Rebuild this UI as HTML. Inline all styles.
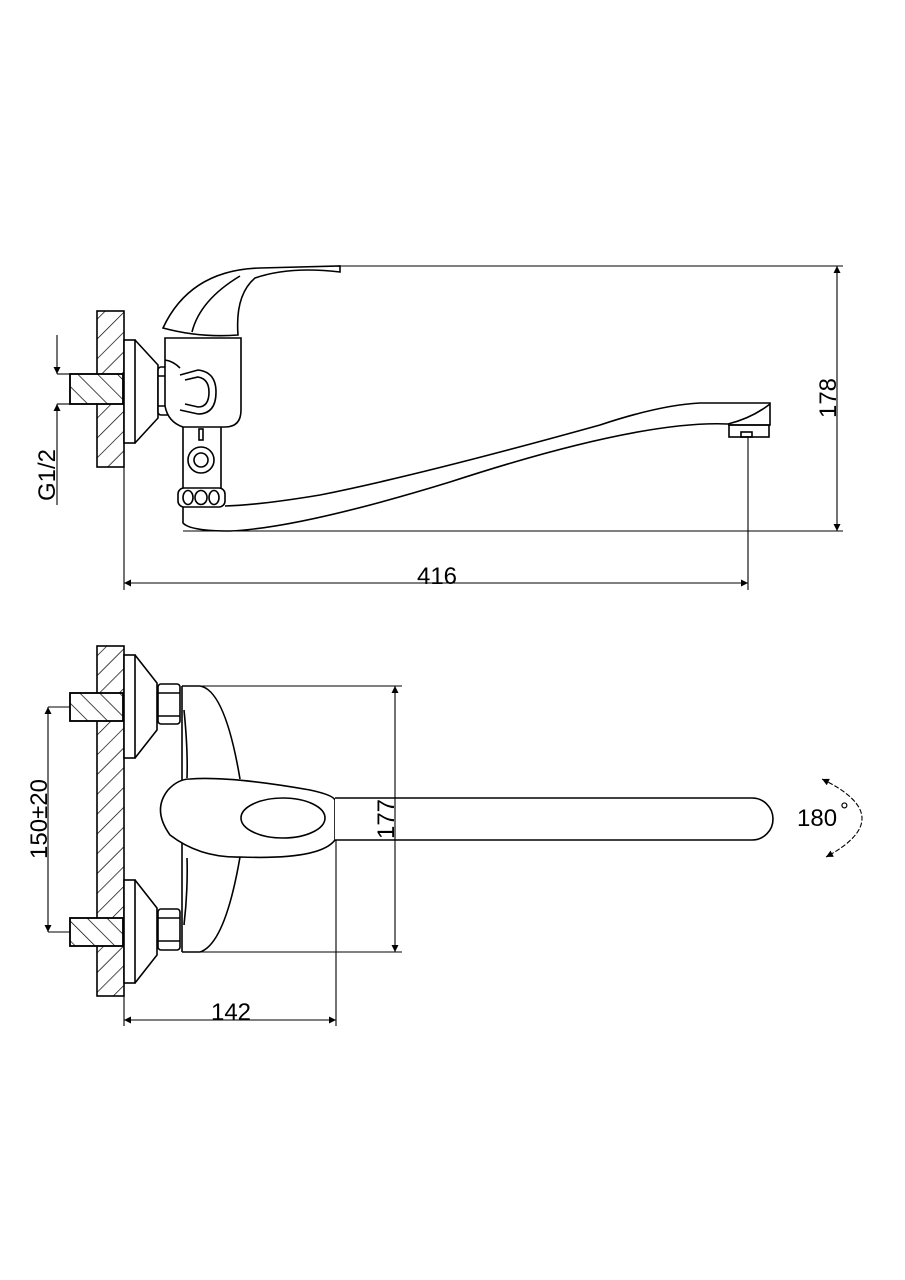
<!DOCTYPE html>
<html><head><meta charset="utf-8"><style>
html,body{margin:0;padding:0;background:#fff}
svg{display:block}
text{font-family:"Liberation Sans",Arial,sans-serif;fill:#000}
</style></head><body>
<svg width="905" height="1280" viewBox="0 0 905 1280" xmlns="http://www.w3.org/2000/svg">
<defs>
<pattern id="h1" patternUnits="userSpaceOnUse" width="14" height="14" patternTransform="rotate(45)">
<line x1="0" y1="0" x2="0" y2="14" stroke="#000" stroke-width="1.4"/></pattern>
<pattern id="h2" patternUnits="userSpaceOnUse" width="14" height="14" patternTransform="rotate(-45)">
<line x1="0" y1="0" x2="0" y2="14" stroke="#000" stroke-width="1.4"/></pattern>
<marker id="a" viewBox="0 0 10 10" refX="10" refY="5" markerWidth="17" markerHeight="7" markerUnits="userSpaceOnUse" orient="auto-start-reverse">
<path d="M0,0 L10,5 L0,10 z" fill="#000"/></marker>
</defs>
<g fill="none" stroke="#000" stroke-width="1.6">
<!-- ===== TOP VIEW ===== -->
<rect x="97" y="311" width="27" height="156" fill="url(#h1)"/>
<rect x="70" y="374" width="53" height="30" fill="#fff"/>
<rect x="70" y="374" width="53" height="30" fill="url(#h2)"/>
<line x1="57" y1="335" x2="57" y2="374" marker-end="url(#a)" stroke-width="1.1"/>
<line x1="57" y1="505" x2="57" y2="404" marker-end="url(#a)" stroke-width="1.1"/>
<line x1="57" y1="374" x2="70" y2="374" stroke-width="1.1"/><line x1="57" y1="404" x2="70" y2="404" stroke-width="1.1"/>
<rect x="124" y="340" width="11" height="103" fill="#fff"/>
<path d="M135,340 L158,365 L158,418 L135,443"/>
<rect x="158" y="367" width="22" height="48" rx="3" fill="#fff"/>
<line x1="158" y1="376" x2="180" y2="376"/><line x1="158" y1="406" x2="180" y2="406"/>
<path d="M165,338 L241,338 L241,410 Q241,427 225,427 L183,427 Q168,422 165,406 Z" fill="#fff"/>
<path d="M180,375 L198,370 Q216,372 216,392 Q216,414 198,414 L180,410"/>
<path d="M185,380 L198,377 Q209,379 209,392 Q209,407 198,407 L185,404"/>
<path d="M165,360 Q173,361 180,368"/>
<path d="M163,328 Q190,270 260,268 L340,266 L340,272 Q290,266 255,278 Q235,295 238,335 Q200,338 163,328 Z" fill="#fff"/>
<path d="M192,332 Q200,300 240,276"/>
<path d="M183,427 L183,488 M221,427 L221,488"/>
<rect x="199" y="429" width="4" height="11"/>
<circle cx="201" cy="460" r="13"/><circle cx="201" cy="460" r="7"/>
<rect x="178" y="488" width="47" height="19" rx="6" fill="#fff"/>
<ellipse cx="188" cy="497.5" rx="5" ry="7"/><ellipse cx="201" cy="497.5" rx="6" ry="7"/><ellipse cx="214" cy="497.5" rx="5" ry="7"/>
<path d="M183,507 L183,523 Q190,531 230,531 Q300,528 450,482 Q640,420 728,424"/>
<path d="M225,506 Q260,505 320,495 Q420,475 600,425 Q660,405 700,403 L770,403 L770,425 L728,425"/>
<path d="M728,424 Q752,418 770,404"/>
<rect x="729" y="425" width="40" height="12"/>
<rect x="741" y="432" width="11" height="5"/>
<g stroke-width="1.1">
<line x1="340" y1="266" x2="843" y2="266"/>
<line x1="183" y1="531" x2="843" y2="531"/>
<line x1="837" y1="400" x2="837" y2="266" marker-end="url(#a)"/>
<line x1="837" y1="400" x2="837" y2="531" marker-end="url(#a)"/>
<line x1="124" y1="467" x2="124" y2="590"/>
<line x1="748" y1="437" x2="748" y2="590"/>
<line x1="430" y1="583" x2="124" y2="583" marker-end="url(#a)"/>
<line x1="430" y1="583" x2="748" y2="583" marker-end="url(#a)"/>
</g>
<!-- ===== BOTTOM VIEW ===== -->
<rect x="97" y="646" width="27" height="350" fill="url(#h1)"/>
<rect x="70" y="693" width="53" height="28" fill="#fff"/>
<rect x="70" y="693" width="53" height="28" fill="url(#h2)"/>
<rect x="70" y="918" width="53" height="28" fill="#fff"/>
<rect x="70" y="918" width="53" height="28" fill="url(#h2)"/>
<rect x="124" y="655" width="11" height="103" fill="#fff"/>
<path d="M135,655 L157,683 L157,730 L135,758"/>
<rect x="124" y="880" width="11" height="103" fill="#fff"/>
<path d="M135,880 L157,908 L157,955 L135,983"/>
<rect x="158" y="684" width="22" height="40" rx="3" fill="#fff"/>
<line x1="158" y1="693" x2="180" y2="693"/><line x1="158" y1="716" x2="180" y2="716"/>
<rect x="158" y="909" width="22" height="41" rx="3" fill="#fff"/>
<line x1="158" y1="918" x2="180" y2="918"/><line x1="158" y1="941" x2="180" y2="941"/>
<line x1="182" y1="686" x2="182" y2="952"/>
<path d="M182,686 L200,686 Q225,690 240,779"/>
<path d="M240,857 Q225,944 200,952 L182,952"/>
<path d="M184,710 Q188,750 187,778 M187,858 Q188,890 184,925"/>
<path d="M190,779 Q230,776 310,790 Q333,795 335,800 L335,840 Q320,860 240,857 Q200,858 170,835 Q152,810 168,790 Q178,779 190,779 Z" fill="#fff"/>
<ellipse cx="283" cy="818" rx="42" ry="20"/>
<path d="M335,798 L752,798 A21,21 0 0 1 752,840 L335,840" fill="#fff"/>
<g stroke-width="1.1">
<line x1="200" y1="686" x2="402" y2="686"/>
<line x1="200" y1="952" x2="402" y2="952"/>
<line x1="335" y1="798" x2="410" y2="798"/>
<line x1="335" y1="840" x2="410" y2="840"/>
<line x1="395" y1="820" x2="395" y2="686" marker-end="url(#a)"/>
<line x1="395" y1="820" x2="395" y2="952" marker-end="url(#a)"/>
<line x1="48" y1="820" x2="48" y2="707" marker-end="url(#a)"/>
<line x1="48" y1="820" x2="48" y2="932" marker-end="url(#a)"/>
<line x1="48" y1="707" x2="70" y2="707"/>
<line x1="48" y1="932" x2="70" y2="932"/>
<line x1="124" y1="996" x2="124" y2="1026"/>
<line x1="336" y1="840" x2="336" y2="1026"/>
<line x1="230" y1="1020" x2="124" y2="1020" marker-end="url(#a)"/>
<line x1="230" y1="1020" x2="336" y2="1020" marker-end="url(#a)"/>
<path d="M822,779 Q900,817 826,857" stroke-dasharray="5,2" marker-start="url(#a)" marker-end="url(#a)"/>
</g>
</g>
<g font-size="24">
<text x="437" y="584" text-anchor="middle">416</text>
<text x="231" y="1020" text-anchor="middle">142</text>
<text x="797" y="826">180</text>
<text x="840" y="818" font-size="22">°</text>
<text transform="translate(836,398) rotate(-90)" text-anchor="middle">178</text>
<text transform="translate(394,819) rotate(-90)" text-anchor="middle">177</text>
<text transform="translate(47,819) rotate(-90)" text-anchor="middle">150±20</text>
<text transform="translate(55,475) rotate(-90)" text-anchor="middle">G1/2</text>
</g>
</svg>
</body></html>
